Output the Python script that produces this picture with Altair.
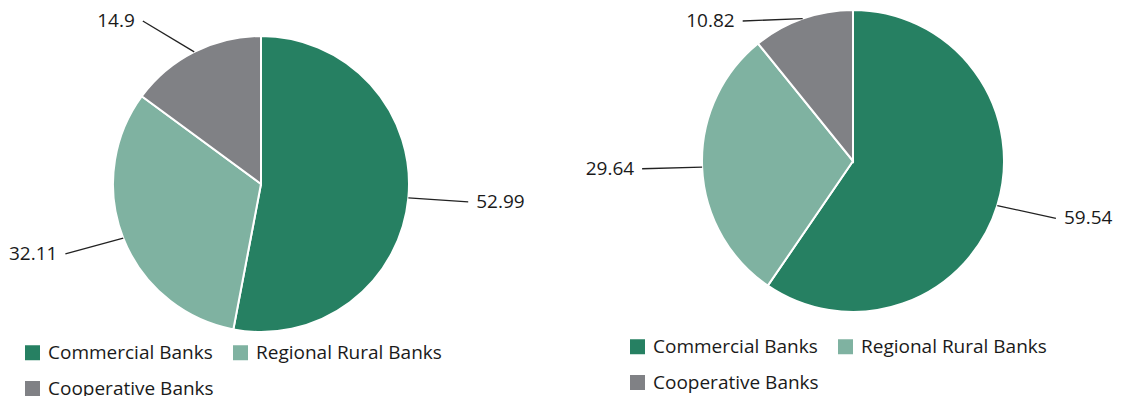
import altair as alt
import pandas as pd
import numpy as np

categories = ["Commercial Banks", "Regional Rural Banks", "Cooperative Banks"]
left_values = [52.99, 32.11, 14.9]
right_values = [59.54, 29.64, 10.82]
left_labels = ["52.99", "32.11", "14.9"]
right_labels = ["59.54", "29.64", "10.82"]
colors = ["#268062", "#7fb2a1", "#808185"]

W, H = 1105, 388
FONT = "Open Sans"
FS = 19
LC, LR = (253, 176), 148
RC, RR = (845, 153), 151
LINE = 60
YMIN = 13


def build(values, labels, center, radius, field):
    df = pd.DataFrame({field: categories, "value": values,
                       "label": labels, "order": list(range(len(values)))})
    total = df["value"].sum()
    cum = df["value"].cumsum()
    mid = (cum - df["value"] / 2) / total * 2 * np.pi
    s, c = np.sin(mid).to_numpy(), np.cos(mid).to_numpy()
    cx, cy = center
    x1 = cx + radius * s
    y1 = cy - radius * c
    dx, dy = s, -c * 0.7
    n = np.sqrt(dx ** 2 + dy ** 2)
    dx, dy = dx / n * LINE, dy / n * LINE
    low = y1 + dy < YMIN
    dy = np.where(low, YMIN - y1, dy)
    dx = np.where(low, np.sign(dx) * np.sqrt(np.maximum(LINE ** 2 - dy ** 2, 0)), dx)
    df["x1"], df["y1"] = x1, y1
    df["x2"], df["y2"] = x1 + dx, y1 + dy
    df["tx"] = df["x2"] + np.sign(dx) * 8
    df["ty"] = df["y2"]
    df["side"] = np.where(dx >= 0, "r", "l")
    return df


def pie(df, center, radius, channel, field, legend_xy, explicit_domain):
    cx, cy = center
    legend = alt.Legend(title=None, orient="none", legendX=legend_xy[0], legendY=legend_xy[1],
                        columns=2, direction="horizontal", symbolType="square",
                        symbolSize=225, symbolStrokeWidth=0,
                        labelFontSize=FS, labelFont=FONT, labelColor="#1a1a1a",
                        labelOffset=6, columnPadding=17, rowPadding=16, labelLimit=400,
                        padding=0)
    if explicit_domain:
        scale = alt.Scale(domain=categories, range=colors)
    else:
        scale = alt.Scale(range=colors)
    if channel == "color":
        col = alt.Color(f"{field}:N", scale=scale, sort=categories, legend=legend)
    else:
        col = alt.Fill(f"{field}:N", scale=scale, sort=categories, legend=legend)
    arcs = alt.Chart(df).mark_arc(outerRadius=radius, stroke="white", strokeWidth=2).encode(
        theta=alt.Theta("value:Q", stack=True),
        order=alt.Order("order:Q"),
        x=alt.value(cx), y=alt.value(cy),
        **{channel: col},
    )
    rules = alt.Chart(df).mark_rule(color="#222222", strokeWidth=1.3).encode(
        x=alt.X("x1:Q", scale=None), y=alt.Y("y1:Q", scale=None),
        x2="x2:Q", y2="y2:Q",
    )
    tr = alt.Chart(df).transform_filter(alt.datum.side == "r").mark_text(
        align="left", baseline="middle", font=FONT, fontSize=FS, color="#1a1a1a").encode(
        x=alt.X("tx:Q", scale=None), y=alt.Y("ty:Q", scale=None), text="label:N")
    tl = alt.Chart(df).transform_filter(alt.datum.side == "l").mark_text(
        align="right", baseline="middle", font=FONT, fontSize=FS, color="#1a1a1a").encode(
        x=alt.X("tx:Q", scale=None), y=alt.Y("ty:Q", scale=None), text="label:N")
    return [arcs, rules, tr, tl]


ldf = build(left_values, left_labels, LC, LR, "category")
rdf = build(right_values, right_labels, RC, RR, "bank_type")

layers = (pie(ldf, LC, LR, "color", "category", (15, 335), True)
          + pie(rdf, RC, RR, "fill", "bank_type", (620, 329), False))

chart = alt.layer(*layers).resolve_scale(theta="independent").properties(
    width=W, height=H, autosize=alt.AutoSizeParams(type="none"), padding=0
).configure_view(stroke=None)

chart.save("out.html", embed_options={"renderer": "svg", "actions": False})
